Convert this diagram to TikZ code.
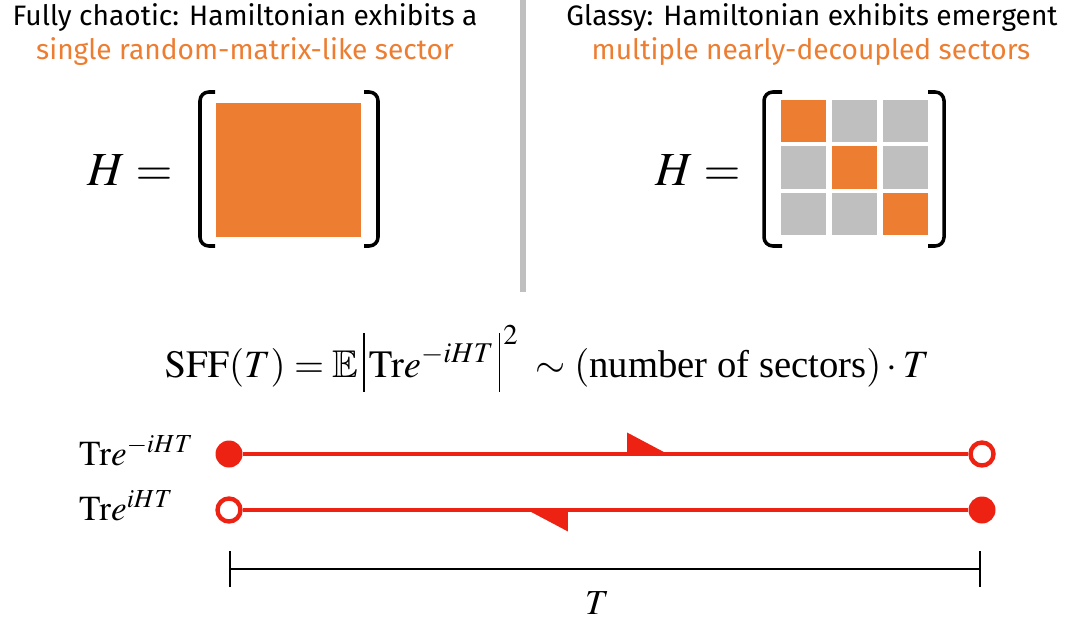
\documentclass[tikz,border=0pt]{standalone}
\usepackage{mathptmx}
\usepackage{amsmath,amssymb}
\usepackage{fontspec}
\setmainfont{Liberation Serif}
\newfontfamily\headfont{Fira Sans}
\usepackage{tikz}
\usetikzlibrary{positioning, calc, arrows.meta, decorations.markings}
\definecolor{sectororange}{RGB}{237,125,49}
\definecolor{sectorgray}{RGB}{191,191,191}
\definecolor{loopred}{RGB}{238,34,18}
\newcommand{\tallbar}{\rule[-8.5pt]{0.9pt}{33.5pt}}

\tikzset{
  heading/.style={font=\headfont\fontsize{16}{18}\selectfont},
  bigmath/.style={font=\fontsize{27}{30}\selectfont},
  eqn/.style={font=\fontsize{20}{24}\selectfont},
  bracket/.style={line width=2pt, rounded corners=5pt},
  cell/.style={fill=sectorgray},
  fulldot/.style={circle, fill=loopred, inner sep=0pt, minimum size=0.54cm},
  opendot/.style={circle, draw=loopred, fill=white, line width=2.5pt, inner sep=0pt, minimum size=0.46cm},
  contour/.style={loopred, line width=2.8pt,
    postaction={decorate, decoration={markings, mark=at position #1 with
      {\fill[loopred] (0.05,0) -- (-0.76,0) -- (-0.76,0.43) -- cycle;}}}},
}

\begin{document}
\begin{tikzpicture}
    \useasboundingbox (0,0) rectangle (21.34,12.38);

    % Headings
    \node[heading] (chaotic) at (4.90,12.02) {Fully chaotic: Hamiltonian exhibits a};
    \node[heading, text=sectororange] (single) at (4.90,11.34) {single random-matrix-like sector};
    \node[heading] (glassy) at (16.24,12.02) {Glassy: Hamiltonian exhibits emergent};
    \node[heading, text=sectororange] (multiple) at (16.22,11.34) {multiple nearly-decoupled sectors};

    % Divider
    \draw[sectorgray, line width=3.4pt] (10.46,12.38) -- (10.46,6.54);

    % Left matrix
    \node[bigmath] (Hleft) at (2.60,8.98) {$H=$};
    \fill[sectororange] (4.32,7.64) rectangle (7.22,10.32);
    \draw[bracket] (4.30,10.54) -- (4.00,10.54) -- (4.00,7.46) -- (4.30,7.46);
    \draw[bracket] (7.28,10.54) -- (7.56,10.54) -- (7.56,7.46) -- (7.28,7.46);

    % Right matrix
    \node[bigmath] (Hright) at (13.96,8.98) {$H=$};
    \foreach \r in {0,1,2}
        \foreach \c in {0,1,2}
            \fill[cell] ({15.62+1.02*\c},{10.38-0.93*\r}) rectangle ++(0.90,-0.85);
    \foreach \d in {0,1,2}
        \fill[sectororange] ({15.62+1.02*\d},{10.38-0.93*\d}) rectangle ++(0.90,-0.85);
    \draw[bracket] (15.64,10.54) -- (15.28,10.54) -- (15.28,7.46) -- (15.64,7.46);
    \draw[bracket] (18.56,10.54) -- (18.88,10.54) -- (18.88,7.46) -- (18.56,7.46);

    % Form factor
    \node[eqn, font=\fontsize{22}{26}\selectfont, anchor=base] (sff) at (10.94,4.84)
        {$\mathrm{SFF}(T)=\mathbb{E}\,\tallbar\,\mathrm{Tr}e^{-iHT}\,\tallbar^{\,2}\;\sim(\text{number of sectors})\cdot T$};

    % Contours
    \node[eqn, anchor=base west] (fwdlabel) at (1.46,3.08) {$\mathrm{Tr}e^{-iHT}$};
    \node[eqn, anchor=base west] (bwdlabel) at (1.46,1.98) {$\mathrm{Tr}e^{iHT}$};
    \node[fulldot] (fwdstart) at (4.58,3.30) {};
    \node[opendot] (fwdend) at (19.64,3.30) {};
    \node[opendot] (bwdstart) at (4.58,2.18) {};
    \node[fulldot] (bwdend) at (19.64,2.18) {};
    \draw[contour=0.582] (fwdstart) -- (fwdend);
    \draw[contour=0.604] (bwdend) -- (bwdstart);

    % Time axis
    \coordinate (tstart) at (4.58,1.00);
    \coordinate (tend) at (19.62,1.00);
    \draw[line width=1.2pt, {Bar[width=0.72cm]}-{Bar[width=0.72cm]}] (tstart) -- (tend);
    \node[eqn] (Tlabel) at (11.94,0.32) {$T$};
\end{tikzpicture}
\end{document}
